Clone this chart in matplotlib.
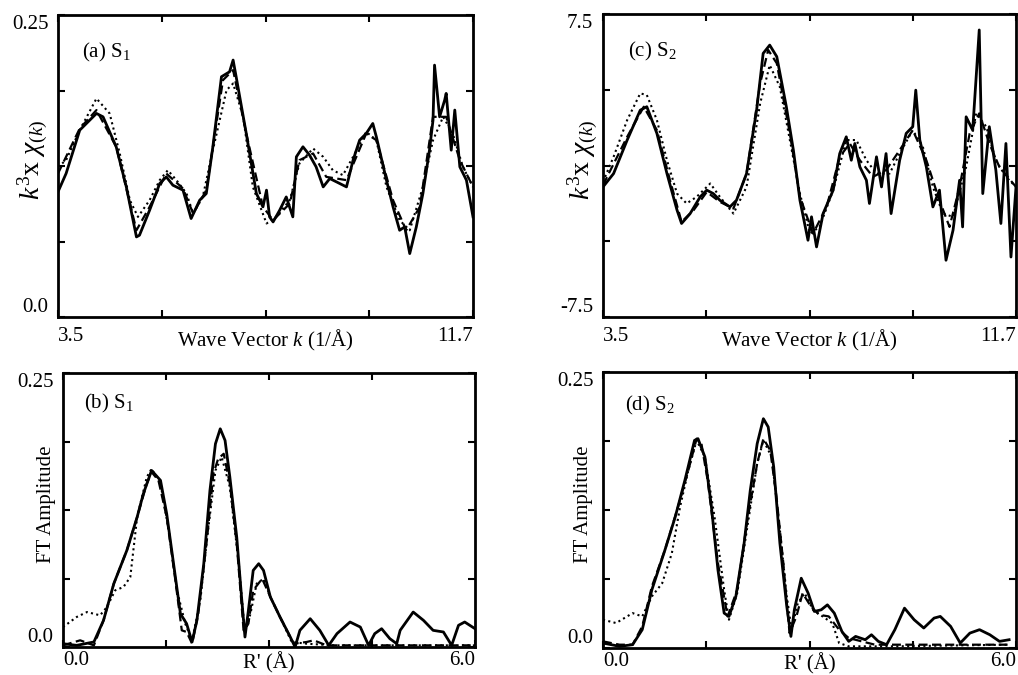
import numpy as np
import matplotlib
matplotlib.use('Agg')
import matplotlib.pyplot as plt

plt.rcParams['font.family'] = ['Liberation Serif', 'DejaVu Serif']
plt.rcParams['mathtext.fontset'] = 'custom'
plt.rcParams['mathtext.rm'] = 'Liberation Serif'
plt.rcParams['mathtext.it'] = 'Liberation Serif:italic'

# ---- (a) S1 : k^3 chi(k) ----
a_sol_k = [3.50, 3.66, 3.93, 4.26, 4.39, 4.65, 4.85, 5.05, 5.11, 5.31, 5.51, 5.64, 5.77, 5.97,
           6.13, 6.30, 6.43, 6.56, 6.73, 6.89, 6.96, 7.02, 7.22, 7.42, 7.55, 7.62, 7.68, 7.75,
           7.88, 8.01, 8.14, 8.21, 8.34, 8.47, 8.60, 8.74, 8.87, 9.00, 9.20, 9.33, 9.46, 9.59,
           9.72, 9.79, 9.99, 10.12, 10.25, 10.35, 10.45, 10.58, 10.71, 10.84, 10.91, 10.94,
           11.04, 11.14, 11.17, 11.27, 11.34, 11.44, 11.57, 11.70]
a_sol_y = [0.1036, 0.1188, 0.1547, 0.1685, 0.1657, 0.1409, 0.1077, 0.0663, 0.0677, 0.0884,
           0.1105, 0.1160, 0.1091, 0.1050, 0.0815, 0.0967, 0.1022, 0.1409, 0.1989, 0.2030,
           0.2127, 0.1989, 0.1519, 0.1022, 0.0912, 0.1050, 0.0829, 0.0787, 0.0884, 0.0994,
           0.0829, 0.1326, 0.1409, 0.1340, 0.1243, 0.1077, 0.1146, 0.1119, 0.1077, 0.1298,
           0.1464, 0.1519, 0.1602, 0.1492, 0.1133, 0.0912, 0.0718, 0.0746, 0.0525, 0.0746,
           0.1022, 0.1381, 0.1630, 0.2085, 0.1657, 0.1795, 0.1851, 0.1381, 0.1713, 0.1243,
           0.1133, 0.0829]
a_das_k = [3.50, 3.93, 4.26, 4.65, 5.05, 5.31, 5.64, 5.97, 6.17, 6.43, 6.76, 6.96, 7.22, 7.55,
           7.75, 8.08, 8.27, 8.54, 8.80, 9.20, 9.59, 9.79, 10.12, 10.38, 10.65, 10.91, 11.17,
           11.44, 11.70]
a_das_y = [0.1188, 0.1561, 0.1713, 0.1409, 0.0718, 0.0912, 0.1188, 0.1064, 0.0856, 0.1050,
           0.1961, 0.2044, 0.1519, 0.0912, 0.0801, 0.0939, 0.1298, 0.1354, 0.1160, 0.1133,
           0.1519, 0.1464, 0.0967, 0.0718, 0.0912, 0.1657, 0.1657, 0.1298, 0.1077]
a_dot_k = [3.50, 3.66, 3.93, 4.26, 4.52, 4.72, 4.92, 5.08, 5.31, 5.51, 5.67, 5.84, 6.04, 6.17,
           6.36, 6.56, 6.83, 6.96, 7.16, 7.35, 7.62, 7.81, 8.08, 8.27, 8.54, 8.74, 8.93, 9.13,
           9.33, 9.59, 9.79, 9.99, 10.25, 10.45, 10.71, 10.91, 11.11, 11.30, 11.50, 11.70]
a_dot_y = [0.1243, 0.1298, 0.1547, 0.1809, 0.1685, 0.1354, 0.0967, 0.0829, 0.0967, 0.1133,
           0.1215, 0.1133, 0.1022, 0.0856, 0.0994, 0.1381, 0.1878, 0.1933, 0.1657, 0.1077,
           0.0774, 0.0829, 0.0967, 0.1271, 0.1395, 0.1326, 0.1215, 0.1174, 0.1326, 0.1533,
           0.1464, 0.1077, 0.0801, 0.0718, 0.1077, 0.1464, 0.1657, 0.1519, 0.1243, 0.1077]

# ---- (c) S2 : k^3 chi(k) ----
c_sol_k = [3.50, 3.71, 3.98, 4.24, 4.37, 4.57, 4.77, 4.97, 5.06, 5.23, 5.43, 5.56, 5.69, 5.82,
           6.02, 6.15, 6.35, 6.55, 6.68, 6.81, 6.95, 7.14, 7.28, 7.41, 7.57, 7.64, 7.74, 7.87,
           8.07, 8.20, 8.33, 8.43, 8.50, 8.60, 8.73, 8.79, 8.93, 9.03, 9.12, 9.22, 9.39, 9.52,
           9.65, 9.71, 9.79, 9.92, 10.05, 10.18, 10.31, 10.45, 10.58, 10.64, 10.71, 10.84,
           10.97, 11.04, 11.17, 11.30, 11.40, 11.50, 11.60, 11.70]
c_sol_y = [-1.06, -0.40, 1.26, 2.74, 2.91, 1.59, -0.40, -2.21, -2.87, -2.38, -1.55, -1.22,
           -1.39, -1.72, -2.05, -1.72, -0.40, 2.74, 5.55, 5.96, 5.39, 2.91, 0.76, -1.72, -3.70,
           -2.54, -4.03, -2.38, -1.22, 0.59, 1.42, 0.26, 1.09, -0.07, -0.73, -1.88, 0.43, -1.06,
           0.59, -2.38, 0.26, 1.59, 1.92, 3.73, 1.26, -0.07, -2.05, -1.22, -4.69, -3.20, -0.73,
           -3.04, 2.41, 1.75, 6.71, -1.39, 1.92, -0.23, -2.87, 1.09, -4.53, -1.06]
c_das_k = [3.50, 3.98, 4.31, 4.57, 4.83, 5.06, 5.30, 5.56, 5.82, 6.09, 6.35, 6.62, 6.78, 6.95,
           7.21, 7.41, 7.67, 7.94, 8.20, 8.40, 8.60, 8.86, 9.12, 9.39, 9.65, 9.92, 10.18, 10.38,
           10.58, 10.78, 10.97, 11.17, 11.37, 11.70]
c_das_y = [-0.97, 1.42, 2.91, 1.75, -0.73, -2.79, -2.21, -1.31, -1.80, -2.13, -0.40, 4.06,
           5.72, 5.06, 1.59, -1.55, -3.37, -2.05, 0.43, 1.09, 0.26, -0.56, -0.23, 0.76, 1.75,
           0.26, -1.72, -3.04, -1.06, 1.59, 2.58, 1.09, -0.07, -1.06]
c_dot_k = [3.50, 3.71, 3.98, 4.24, 4.37, 4.57, 4.77, 4.97, 5.16, 5.36, 5.63, 5.82, 6.09, 6.35,
           6.62, 6.81, 7.01, 7.21, 7.41, 7.61, 7.80, 8.07, 8.33, 8.53, 8.73, 8.93, 9.19, 9.39,
           9.65, 9.85, 10.05, 10.25, 10.45, 10.71, 10.91, 11.11, 11.30, 11.50, 11.70]
c_dot_y = [-0.81, 0.43, 2.25, 3.57, 3.49, 2.25, 0.26, -1.39, -1.88, -1.55, -0.89, -1.55,
           -2.38, -1.06, 3.07, 4.97, 3.90, 1.26, -1.39, -3.37, -3.04, -1.22, 1.26, 1.26, 0.26,
           -0.40, -0.40, 0.59, 1.75, 0.93, -1.06, -2.38, -2.54, -0.07, 2.58, 1.92, 0.26, -0.56,
           -1.06]

# ---- (b) S1 : FT amplitude ----
b_sol_r = [0.00, 0.20, 0.45, 0.59, 0.74, 0.93, 1.08, 1.17, 1.29, 1.42, 1.51, 1.61, 1.71, 1.80,
           1.88, 1.95, 2.05, 2.14, 2.22, 2.29, 2.36, 2.43, 2.53, 2.60, 2.65, 2.70, 2.77, 2.85,
           2.92, 3.02, 3.16, 3.31, 3.38, 3.45, 3.60, 3.74, 3.87, 3.99, 4.18, 4.33, 4.45, 4.54,
           4.64, 4.76, 4.86, 4.91, 5.10, 5.25, 5.39, 5.54, 5.66, 5.76, 5.85, 6.00]
b_sol_y = [0.0030, 0.0015, 0.0046, 0.0243, 0.0578, 0.0882, 0.1186, 0.1398, 0.1611, 0.1520,
           0.1216, 0.0760, 0.0304, 0.0213, 0.0046, 0.0243, 0.0760, 0.1429, 0.1854, 0.1991,
           0.1885, 0.1550, 0.1003, 0.0456, 0.0091, 0.0334, 0.0699, 0.0760, 0.0699, 0.0456,
           0.0274, 0.0091, 0.0000, 0.0152, 0.0258, 0.0152, 0.0015, 0.0122, 0.0228, 0.0182,
           0.0015, 0.0122, 0.0167, 0.0076, 0.0030, 0.0152, 0.0319, 0.0243, 0.0152, 0.0137,
           0.0015, 0.0198, 0.0228, 0.0167]
b_das_r = [0.00, 0.25, 0.45, 0.59, 0.74, 0.93, 1.08, 1.22, 1.29, 1.39, 1.51, 1.63, 1.73, 1.80,
           1.88, 1.97, 2.10, 2.19, 2.26, 2.34, 2.43, 2.53, 2.63, 2.70, 2.77, 2.90, 3.02, 3.16,
           3.36, 3.55, 3.65, 3.84, 4.42, 4.91, 6.00]
b_das_y = [0.0015, 0.0061, 0.0015, 0.0243, 0.0578, 0.0882, 0.1186, 0.1490, 0.1596, 0.1520,
           0.1186, 0.0638, 0.0152, 0.0137, 0.0030, 0.0304, 0.1003, 0.1581, 0.1718, 0.1763,
           0.1490, 0.0942, 0.0152, 0.0213, 0.0517, 0.0623, 0.0456, 0.0274, 0.0030, 0.0046,
           0.0061, 0.0015, 0.0015, 0.0015, 0.0015]
b_dot_r = [0.00, 0.20, 0.35, 0.54, 0.64, 0.76, 0.88, 0.98, 1.08, 1.22, 1.29, 1.42, 1.54, 1.66,
           1.78, 1.88, 2.00, 2.10, 2.22, 2.31, 2.43, 2.56, 2.65, 2.73, 2.82, 2.92, 3.02, 3.16,
           3.33, 3.55, 3.94, 4.91, 6.00]
b_dot_y = [0.0182, 0.0274, 0.0319, 0.0289, 0.0365, 0.0517, 0.0547, 0.0638, 0.1186, 0.1550,
           0.1626, 0.1490, 0.1064, 0.0517, 0.0213, 0.0061, 0.0426, 0.1003, 0.1611, 0.1733,
           0.1459, 0.0760, 0.0122, 0.0304, 0.0578, 0.0623, 0.0456, 0.0274, 0.0046, 0.0030,
           0.0015, 0.0015, 0.0015]

# ---- (d) S2 : FT amplitude ----
d_sol_r = [0.00, 0.24, 0.43, 0.57, 0.71, 0.90, 1.05, 1.19, 1.33, 1.38, 1.48, 1.57, 1.67, 1.76,
           1.83, 1.93, 2.05, 2.14, 2.24, 2.33, 2.40, 2.48, 2.57, 2.67, 2.73, 2.78, 2.88, 2.98,
           3.07, 3.17, 3.26, 3.36, 3.47, 3.57, 3.67, 3.81, 3.90, 4.00, 4.12, 4.24, 4.38, 4.52,
           4.66, 4.81, 4.90, 5.05, 5.19, 5.33, 5.47, 5.62, 5.76, 5.90]
d_sol_y = [0.0045, 0.0015, 0.0030, 0.0166, 0.0527, 0.0888, 0.1189, 0.1520, 0.1881, 0.1896,
           0.1731, 0.1309, 0.0707, 0.0316, 0.0286, 0.0467, 0.0948, 0.1430, 0.1851, 0.2077,
           0.2002, 0.1640, 0.0948, 0.0376, 0.0105, 0.0346, 0.0632, 0.0497, 0.0331, 0.0346,
           0.0391, 0.0316, 0.0151, 0.0060, 0.0105, 0.0075, 0.0120, 0.0060, 0.0030, 0.0166,
           0.0361, 0.0256, 0.0181, 0.0271, 0.0286, 0.0196, 0.0045, 0.0135, 0.0166, 0.0120,
           0.0060, 0.0075]
d_das_r = [0.00, 0.24, 0.43, 0.57, 0.71, 0.90, 1.09, 1.24, 1.36, 1.43, 1.52, 1.67, 1.81, 1.95,
           2.09, 2.24, 2.33, 2.43, 2.52, 2.62, 2.71, 2.81, 2.90, 3.02, 3.14, 3.28, 3.43, 3.57,
           3.76, 3.95, 4.24, 5.90]
d_das_y = [0.0060, 0.0030, 0.0030, 0.0196, 0.0557, 0.0888, 0.1279, 0.1610, 0.1896, 0.1851,
           0.1520, 0.0768, 0.0286, 0.0527, 0.1129, 0.1671, 0.1896, 0.1791, 0.1370, 0.0768,
           0.0135, 0.0286, 0.0497, 0.0376, 0.0301, 0.0286, 0.0166, 0.0090, 0.0060, 0.0030,
           0.0030, 0.0030]
d_dot_r = [0.00, 0.19, 0.43, 0.57, 0.71, 0.86, 1.00, 1.12, 1.24, 1.36, 1.48, 1.62, 1.76, 1.83,
           1.95, 2.09, 2.24, 2.33, 2.45, 2.57, 2.67, 2.74, 2.83, 2.93, 3.05, 3.19, 3.33, 3.43,
           3.57, 4.24, 5.90]
d_dot_y = [0.0256, 0.0226, 0.0316, 0.0286, 0.0467, 0.0587, 0.0858, 0.1279, 0.1610, 0.1881,
           0.1731, 0.1189, 0.0527, 0.0256, 0.0497, 0.1069, 0.1671, 0.1881, 0.1731, 0.1069,
           0.0467, 0.0166, 0.0406, 0.0497, 0.0346, 0.0286, 0.0226, 0.0045, 0.0015, 0.0015,
           0.0030]

k_ticks = [3.5, 5.55, 7.6, 9.65, 11.7]
k_labels = ['3.5', '', '', '', '11.7']
r_ticks = [0.0, 1.5, 3.0, 4.5, 6.0]
r_labels = ['0.0', '', '', '', '6.0']
chi_label = r'$k^3$x $\chi_{(k)}$'

fig = plt.figure(figsize=(10.18, 6.75), dpi=100)
W, H = 1018.0, 675.0


def make_ax(x0, y0, x1, y1):
    return fig.add_axes([x0 / W, 1 - y1 / H, (x1 - x0) / W, (y1 - y0) / H])


def style(ax, xlim, ylim, xt, xl, yt, yl, xpad=7):
    ax.set_xlim(xlim)
    ax.set_ylim(ylim)
    ax.set_xticks(xt)
    ax.set_xticklabels(xl, fontsize=15)
    ax.set_yticks(yt)
    ax.set_yticklabels(yl, fontsize=15)
    ax.tick_params(direction='in', length=5, width=1.5, top=True, right=True, pad=7)
    ax.tick_params(axis='x', pad=xpad)
    xls = ax.get_xticklabels()
    xls[0].set_ha('left')
    xls[-1].set_ha('right')
    yls = ax.get_yticklabels()
    yls[0].set_va('bottom')
    yls[-1].set_va('top')
    for s in ax.spines.values():
        s.set_linewidth(2)


def draw3(ax, xs, ys, xd, yd, xo, yo):
    ax.plot(xs, ys, color='black', lw=2.0, ls='-')
    ax.plot(xd, yd, color='black', lw=1.6, dashes=(4, 2))
    ax.plot(xo, yo, color='black', lw=1.5, dashes=(1, 1.6))


ya = [0, 0.0625, 0.125, 0.1875, 0.25]
ya_l = ['0.0', '', '', '', '0.25']
yc = [-7.5, -3.75, 0, 3.75, 7.5]
yc_l = ['-7.5', '', '', '', '7.5']

# (a)
ax = make_ax(58, 15, 473, 317)
draw3(ax, a_sol_k, a_sol_y, a_das_k, a_das_y, a_dot_k, a_dot_y)
style(ax, (3.5, 11.7), (0, 0.25), k_ticks, k_labels, ya, ya_l)
ax.set_xlabel('Wave Vector $k$ (1/Å)', fontsize=15)
ax.xaxis.set_label_coords(0.5, -0.035)
ax.xaxis.label.set_va('top')
ax.set_ylabel(chi_label, fontsize=20)
ax.yaxis.set_label_coords(-0.02, 0.52)
ax.text(0.058, 0.875, '(a) S$_1$', transform=ax.transAxes, fontsize=15, va='center')

# (c)
ax = make_ax(603, 14, 1016, 317)
draw3(ax, c_sol_k, c_sol_y, c_das_k, c_das_y, c_dot_k, c_dot_y)
style(ax, (3.5, 11.7), (-7.5, 7.5), k_ticks, k_labels, yc, yc_l)
ax.set_xlabel('Wave Vector $k$ (1/Å)', fontsize=15)
ax.xaxis.set_label_coords(0.5, -0.035)
ax.xaxis.label.set_va('top')
ax.set_ylabel(chi_label, fontsize=20)
ax.yaxis.set_label_coords(-0.008, 0.52)
ax.text(0.06, 0.875, '(c) S$_2$', transform=ax.transAxes, fontsize=15, va='center')

# (b)
ax = make_ax(63, 373, 475, 647)
draw3(ax, b_sol_r, b_sol_y, b_das_r, b_das_y, b_dot_r, b_dot_y)
style(ax, (0, 6), (0, 0.25), r_ticks, r_labels, ya, ya_l, xpad=3)
ax.set_xlabel("R' (Å)", fontsize=15)
ax.xaxis.set_label_coords(0.5, -0.018)
ax.xaxis.label.set_va('top')
ax.set_ylabel('FT Amplitude', fontsize=15)
ax.yaxis.set_label_coords(-0.018, 0.52)
ax.text(0.05, 0.89, '(b) S$_1$', transform=ax.transAxes, fontsize=15, va='center')

# (d)
ax = make_ax(603, 372, 1016, 648)
draw3(ax, d_sol_r, d_sol_y, d_das_r, d_das_y, d_dot_r, d_dot_y)
style(ax, (0, 6), (0, 0.25), r_ticks, r_labels, ya, ya_l, xpad=3)
ax.set_xlabel("R' (Å)", fontsize=15)
ax.xaxis.set_label_coords(0.5, -0.018)
ax.xaxis.label.set_va('top')
ax.set_ylabel('FT Amplitude', fontsize=15)
ax.yaxis.set_label_coords(-0.024, 0.52)
ax.text(0.053, 0.88, '(d) S$_2$', transform=ax.transAxes, fontsize=15, va='center')

fig.savefig('out.png', dpi=100)
